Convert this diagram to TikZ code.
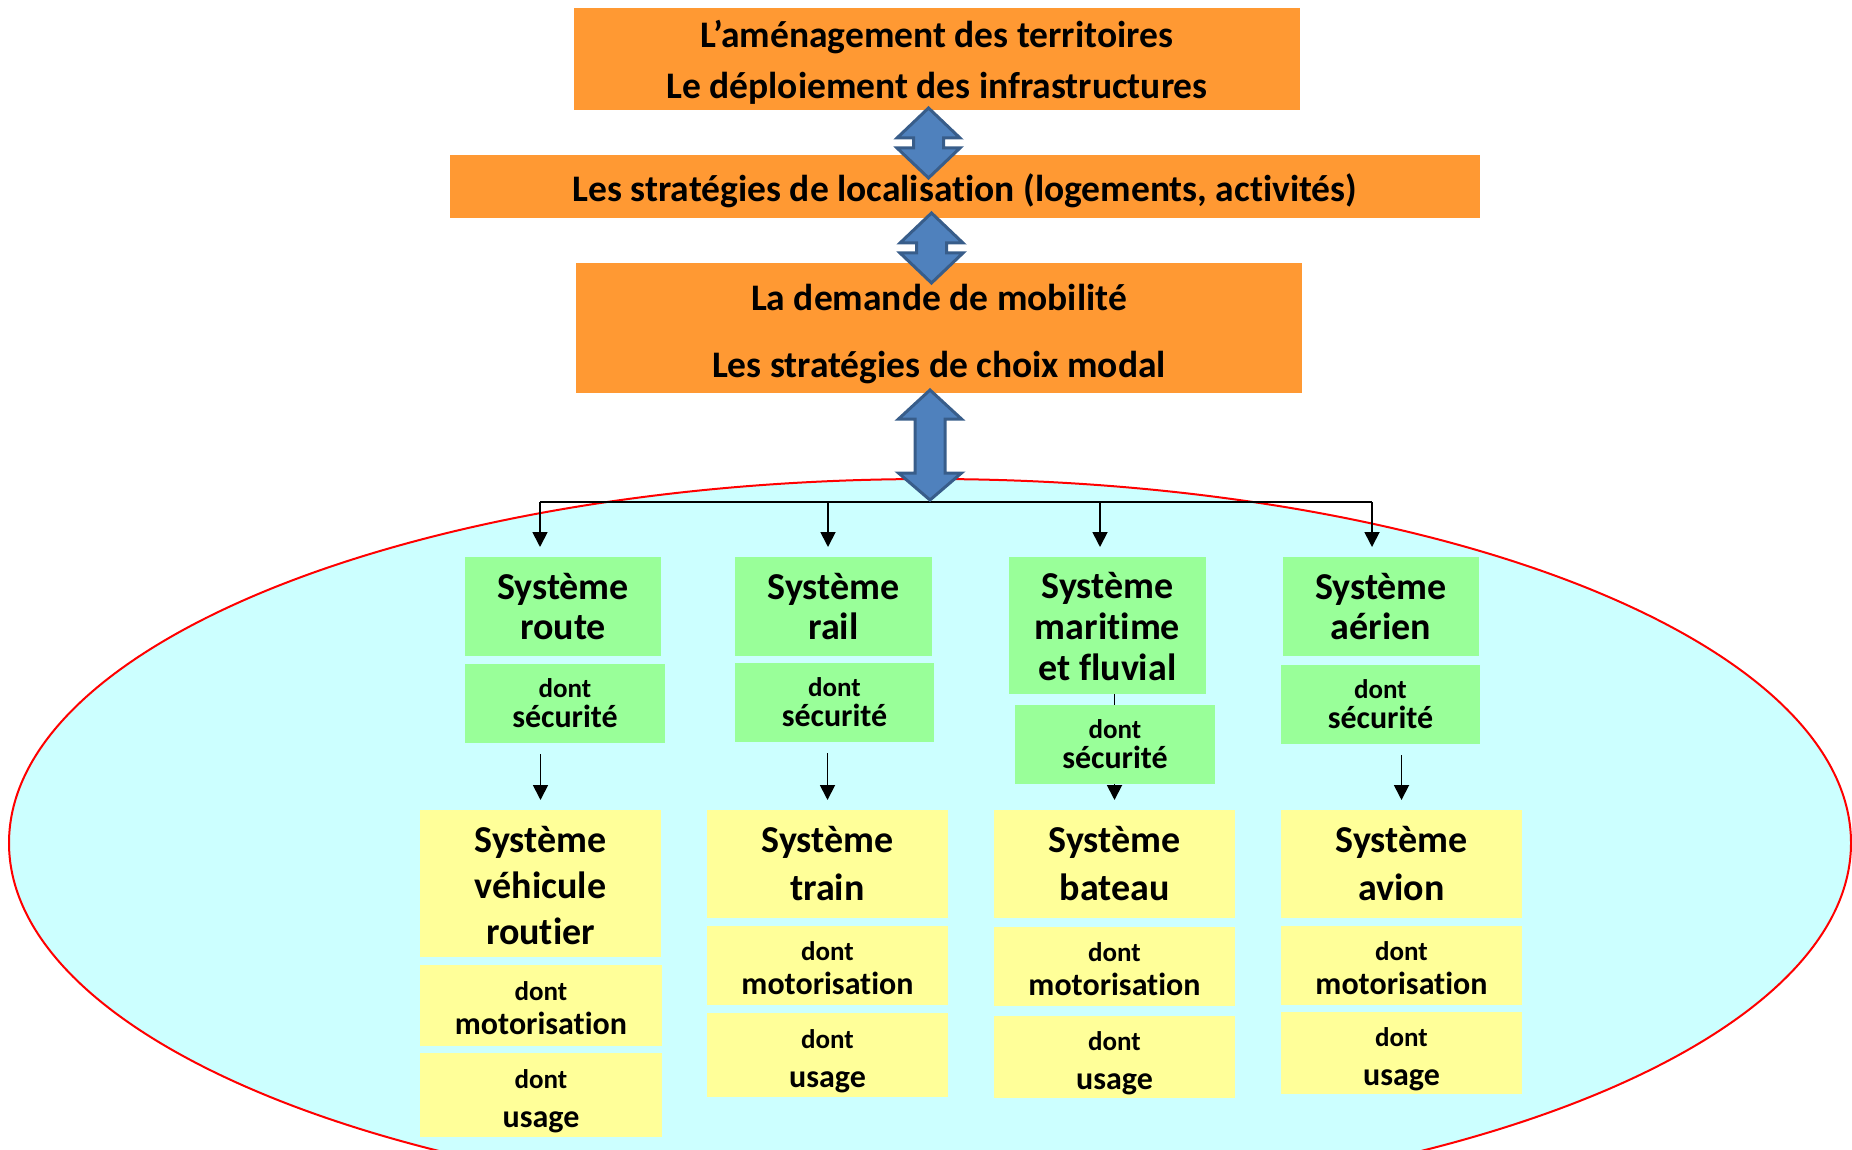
\documentclass[tikz,border=0pt]{standalone}
\usepackage{fontspec}
\setmainfont{Carlito}[Ligatures={NoCommon,NoContextual,NoRare},Contextuals={NoAlternate}]
\usetikzlibrary{arrows.meta}
\definecolor{orng}{HTML}{FF9933}
\definecolor{grn}{HTML}{99FF99}
\definecolor{ylw}{HTML}{FFFF99}
\definecolor{cyn}{HTML}{CCFFFF}
\definecolor{blu}{HTML}{4F81BD}
\definecolor{blud}{HTML}{385D8A}
\newcommand\dblarrow[5]{%
  \draw[dbl] (#1,#2) -- ({#1+31.5},{#2+#4}) -- ({#1+15},{#2+#4}) -- ({#1+15},{#3-#5})
    -- ({#1+31.5},{#3-#5}) -- (#1,#3) -- ({#1-31.5},{#3-#5}) -- ({#1-15},{#3-#5})
    -- ({#1-15},{#2+#4}) -- ({#1-31.5},{#2+#4}) -- cycle;}
\newcommand\dnt[1]{{\fontsize{27}{#1}\selectfont dont}}
\begin{document}
\begin{tikzpicture}[x=1pt,y=-1pt,
  box/.style={inner sep=0pt, outer sep=0pt},
  lab/.style={inner sep=0pt, outer sep=0pt, align=center},
  sz/.style 2 args={minimum width=#1pt, minimum height=#2pt},
  obox/.style={box, fill=orng},
  gbox/.style={box, fill=grn},
  ybox/.style={box, fill=ylw},
  arr/.style={line width=1.8pt, -{Triangle[width=15pt,length=15pt]}},
  bus/.style={line width=1.8pt},
  dbl/.style={fill=blu, draw=blud, line width=3pt, line join=miter},
  ftop/.style={font=\fontsize{37.5}{#1}\selectfont\bfseries},
  fbig/.style={font=\fontsize{38}{#1}\selectfont\bfseries},
  fsmall/.style={font=\fontsize{32}{#1}\selectfont\bfseries}]
\useasboundingbox (0,0) rectangle (1852,1150);
\clip (0,0) rectangle (1852,1150);

% ellipse
\draw[red, fill=cyn, line width=2pt] (930,843) ellipse [x radius=921pt, y radius=364pt];

% top boxes
\node[obox, sz={726}{102}, label={[lab, ftop=51, yshift=-3.5pt]center:{L’aménagement des territoires\\Le déploiement des infrastructures}}] (top1) at (937,59) {};
\node[obox, sz={1030}{63}, label={[lab, ftop=43, yshift=-4.5pt]center:{Les stratégies de localisation (logements, activités)}}] (top2) at (965,186.5) {};
\node[obox, sz={726}{130}, label={[lab, ftop=67, yshift=-6pt]center:{La demande de mobilité\\Les stratégies de choix modal}}] (top3) at (939,328) {};

% bus
\coordinate (b1) at (540,502);
\coordinate (b2) at (828,502);
\coordinate (b3) at (1100,502);
\coordinate (b4) at (1372,502);
\draw[bus] (b1) -- (b4);

% green system boxes
\node[gbox, sz={196}{99}, label={[lab, fbig=40]center:{Système\\route}}] (routeS) at (563,606.5) {};
\node[gbox, sz={197}{99}, label={[lab, fbig=40]center:{Système\\rail}}] (railS) at (833.5,606.5) {};
\node[gbox, sz={197}{137}, label={[lab, fbig=41, yshift=-1pt]center:{Système\\maritime\\et fluvial}}] (marS) at (1107.5,625.5) {};
\node[gbox, sz={196}{99}, label={[lab, fbig=40]center:{Système\\aérien}}] (airS) at (1381,606.5) {};

\draw[arr, shorten >=10pt] (b1) -- (b1 |- routeS.north);
\draw[arr, shorten >=10pt] (b2) -- (b2 |- railS.north);
\draw[arr, shorten >=10pt] (b3) -- (b3 |- marS.north);
\draw[arr, shorten >=10pt] (b4) -- (b4 |- airS.north);

% yellow system boxes
\node[ybox, sz={241}{147}, label={[lab, fbig=46, yshift=-2pt]center:{Système\\véhicule\\routier}}] (routeY) at (540.5,883.5) {};
\node[ybox, sz={241}{108}, label={[lab, fbig=48]center:{Système\\train}}] (railY) at (827.5,864) {};
\node[ybox, sz={241}{108}, label={[lab, fbig=48]center:{Système\\bateau}}] (marY) at (1114.5,864) {};
\node[ybox, sz={241}{108}, label={[lab, fbig=48]center:{Système\\avion}}] (airY) at (1401.5,864) {};

% maritime arrow (partly hidden by its sécurité box)
\draw[arr, shorten >=10pt] (marS.south -| marY.north) -- (marY.north);

% green "dont sécurité" boxes
\node[gbox, sz={200}{79}, label={[lab, fsmall=30]center:{\dnt{30}\\sécurité}}] (routeD) at (565,703.5) {};
\node[gbox, sz={199}{79}, label={[lab, fsmall=30]center:{\dnt{30}\\sécurité}}] (railD) at (834.5,702.5) {};
\node[gbox, sz={200}{79}, label={[lab, fsmall=30]center:{\dnt{30}\\sécurité}}] (marD) at (1115,744.5) {};
\node[gbox, sz={199}{79}, label={[lab, fsmall=30]center:{\dnt{30}\\sécurité}}] (airD) at (1380.5,704.5) {};

\draw[arr, shorten <=11pt, shorten >=10pt] (routeD.south -| routeY.north) -- (routeY.north);
\draw[arr, shorten <=11pt, shorten >=10pt] (railD.south -| railY.north) -- (railY.north);
\draw[arr, shorten <=11pt, shorten >=10pt] (airD.south -| airY.north) -- (airY.north);

% yellow "dont" boxes
\node[ybox, sz={242}{81}, label={[lab, fsmall=34, yshift=-2.5pt]center:{\dnt{34}\\motorisation}}] (routeM) at (541,1005.5) {};
\node[ybox, sz={242}{84}, label={[lab, fsmall=39, yshift=-6pt]center:{\dnt{39}\\usage}}] (routeU) at (541,1095) {};
\node[ybox, sz={241}{79}, label={[lab, fsmall=34, yshift=-2.5pt]center:{\dnt{34}\\motorisation}}] (railM) at (827.5,965.5) {};
\node[ybox, sz={241}{84}, label={[lab, fsmall=39, yshift=-6pt]center:{\dnt{39}\\usage}}] (railU) at (827.5,1055) {};
\node[ybox, sz={241}{79}, label={[lab, fsmall=34, yshift=-2.5pt]center:{\dnt{34}\\motorisation}}] (marM) at (1114.5,966.5) {};
\node[ybox, sz={241}{82}, label={[lab, fsmall=39, yshift=-6pt]center:{\dnt{39}\\usage}}] (marU) at (1114.5,1057) {};
\node[ybox, sz={241}{79}, label={[lab, fsmall=34, yshift=-2.5pt]center:{\dnt{34}\\motorisation}}] (airM) at (1401.5,965.5) {};
\node[ybox, sz={241}{82}, label={[lab, fsmall=39, yshift=-6pt]center:{\dnt{39}\\usage}}] (airU) at (1401.5,1053) {};

% big double arrows
\dblarrow{928.5}{108}{178}{30}{30}
\dblarrow{931.5}{213}{283}{30}{30}
\dblarrow{930}{390}{500}{29}{27}
\end{tikzpicture}
\end{document}
